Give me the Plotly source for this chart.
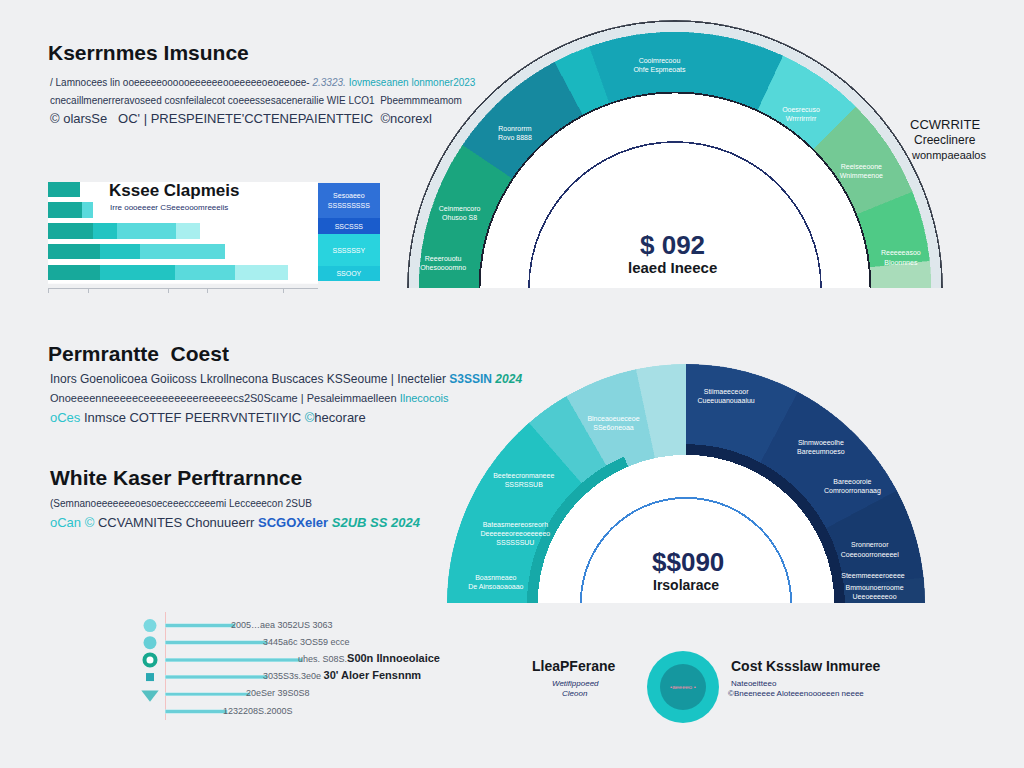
import plotly.graph_objects as go

W, H = 1024, 768

# ---------------- data ----------------
top_arc_names = ["Ceinmencoro", "Roonrorrm", "Cosse", "Cooimrecoou", "Ooesrecuso",
                 "Reeiseeoone", "Reeeeeasoo", "Bloonnnes"]
top_arc_values = [34, 28, 8.5, 44.5, 20, 23, 16, 6]

low_arc_names = ["Beeteecronmaneee", "Ceeeoosssoa", "Blnceaoeueceoe", "Aeseoees",
                 "Stiimaeeceoor", "Slnmwoeeolhe", "Sronnerroor", "Steemmeeeero"]
low_arc_values = [49, 11, 18, 12, 28, 34, 22, 6]

low_ring_names = ["Teal ring", "Open", "Navy ring"]
low_ring_values = [67, 23, 90]

bar_rows = ["Kssee", "Clapmeis", "Coeeeoo", "Sooeeoo", "Ceeeoos"]
bar_base = [32, 34, 45, 52, 52]
bar_core = [0, 0, 24, 40, 75]
bar_light = [0, 11, 59, 85, 60]
bar_pale = [0, 0, 24, 0, 53]

block_names = ["SSOOY", "SSSSSSY", "SSCSSS", "Sesoaeeo<br>SSSSSSSSS"]
block_values = [15, 32, 16, 35]

lolli_rows = ["r1", "r2", "r3", "r4", "r5", "r6"]
lolli_values = [70, 102, 137, 102, 85, 62]
lolli_labels = ["2005\u2026aea 3052US 3063",
                "3445a6c 3OS59 ecce",
                "uhes. S08S.<b><span style='font-size:11px;color:#1b1f2a'>S00n Ilnnoeolaice</span></b>",
                "3035S3s.3e0e <b><span style='font-size:11px;color:#1b1f2a'>30' Aloer Fensnnm</span></b>",
                "20eSer 39S0S8",
                "1232208S.2000S"]

# ---------------- helpers ----------------
def fx(px):
    return px / W


def fy(py):
    return 1 - py / H


def arc_centers(values, start=180.0):
    out, a = [], start
    for v in values:
        out.append(a - v / 2.0)
        a -= v
    return out


FONT = "Liberation Sans"
fig = go.Figure()

# ---------------- top semicircle ----------------
top_colors = ["#1aa57e", "#16899f", "#1ab7bf", "#15a5b6", "#55d8d9",
              "#74c995", "#4fca86", "#a9dcba"]
fig.add_trace(go.Barpolar(r=[0.045], theta=[90], width=[180], base=[0.955],
                          marker=dict(color="#dfe7ec", line=dict(width=0)),
                          subplot="polar", hoverinfo="skip"))
fig.add_trace(go.Barpolar(r=[0.006], theta=[90], width=[180], base=[0.994],
                          marker=dict(color="#3a404c", line=dict(width=0)),
                          subplot="polar", hoverinfo="skip"))
fig.add_trace(go.Barpolar(r=[0.225] * len(top_arc_values), theta=arc_centers(top_arc_values),
                          width=top_arc_values, base=[0.73] * len(top_arc_values),
                          text=top_arc_names,
                          marker=dict(color=top_colors, line=dict(color=top_colors, width=0.6)),
                          subplot="polar"))
fig.add_trace(go.Barpolar(r=[0.73], theta=[90], width=[180], base=[0],
                          marker=dict(color="#ffffff", line=dict(width=0)),
                          subplot="polar", hoverinfo="skip"))
fig.add_trace(go.Barpolar(r=[0.007], theta=[90], width=[180], base=[0.726],
                          marker=dict(color="#1b2030", line=dict(width=0)),
                          subplot="polar", hoverinfo="skip"))
fig.add_trace(go.Barpolar(r=[0.006], theta=[90], width=[180], base=[0.542],
                          marker=dict(color="#22306a", line=dict(width=0)),
                          subplot="polar", hoverinfo="skip"))

top_lbl_text = ["Reeerouotu<br>Ohesoooomno", "Ceinmencoro<br>Ohusoo S8", "Roonrorrm<br>Rovo 8888",
                "Cooimrecoou<br>Ohfe Espmeoats", "Ooesrecuso<br>Wrrrrirrrirr",
                "Reeiseeoone<br>Wnimmeenoe", "Reeeeeasoo<br>Bloonnnes"]
top_lbl_theta = [174, 161, 136, 94, 54, 32, 7.5]
top_lbl_r = [0.87, 0.85, 0.83, 0.83, 0.80, 0.82, 0.85]
fig.add_trace(go.Scatterpolar(r=top_lbl_r, theta=top_lbl_theta, mode="text", text=top_lbl_text,
                              textfont=dict(size=7, color="#ffffff", family=FONT),
                              subplot="polar", hoverinfo="skip"))

# ---------------- lower semicircle ----------------
low_colors = ["#22c2c2", "#4ecbd0", "#86d5de", "#a7dfe5",
              "#1e4883", "#1a4079", "#173a6e", "#1b3f71"]
fig.add_trace(go.Barpolar(r=[0.38] * len(low_arc_values), theta=arc_centers(low_arc_values),
                          width=low_arc_values, base=[0.62] * len(low_arc_values),
                          text=low_arc_names,
                          marker=dict(color=low_colors, line=dict(color=low_colors, width=0.6)),
                          subplot="polar2"))
ring_colors = ["#16a9a8", "rgba(0,0,0,0)", "#0f2650"]
fig.add_trace(go.Barpolar(r=[0.045] * 3, theta=arc_centers(low_ring_values), width=low_ring_values,
                          base=[0.62] * 3, text=low_ring_names,
                          marker=dict(color=ring_colors, line=dict(width=0)),
                          subplot="polar2", hoverinfo="skip"))
fig.add_trace(go.Barpolar(r=[0.62], theta=[90], width=[180], base=[0],
                          marker=dict(color="#ffffff", line=dict(width=0)),
                          subplot="polar2", hoverinfo="skip"))
fig.add_trace(go.Barpolar(r=[0.008], theta=[90], width=[180], base=[0.436],
                          marker=dict(color="#3b86d8", line=dict(width=0)),
                          subplot="polar2", hoverinfo="skip"))

low_lbl_text = ["Boasnmeaeo<br>De Ainsoaoaoaao", "Bateasmeereosreorh<br>Deeeeeeoreeoeeeeeo<br>SSSSSSUU",
                "Beeteecronmaneee<br>SSSRSSUB", "Blnceaoeueceoe<br>SSe6oneoaa",
                "Stiimaeeceoor<br>Cueeuuanouaaiuu", "Slnmwoeeolhe<br>Bareeumnoeso",
                "Bareeooroie<br>Comroorronanaag", "Sronnerroor<br>Coeeooorroneeeel",
                "Steemmeeeeroeeee", "Bmmounoerroome<br>Ueeoeeeeeoo"]
low_lbl_theta = [174, 158, 143, 112, 79, 49, 35, 16, 8, 3]
low_lbl_r = [0.80, 0.77, 0.85, 0.81, 0.88, 0.86, 0.85, 0.80, 0.79, 0.79]
fig.add_trace(go.Scatterpolar(r=low_lbl_r, theta=low_lbl_theta, mode="text", text=low_lbl_text,
                              textfont=dict(size=7, color="#ffffff", family=FONT),
                              subplot="polar2", hoverinfo="skip"))

# ---------------- top-left horizontal bars ----------------
seg_cols = ["#17a99b", "#22c4c2", "#5adadc", "#a8efef"]
for vals, col in zip([bar_base, bar_core, bar_light, bar_pale], seg_cols):
    fig.add_trace(go.Bar(y=bar_rows, x=vals, orientation="h", marker=dict(color=col, line=dict(width=0)),
                         xaxis="x", yaxis="y", hoverinfo="skip"))

# ---------------- blue legend column ----------------
block_cols = ["#1ec5da", "#29d3de", "#1a5ccc", "#2f70d7"]
for name, val, col in zip(block_names, block_values, block_cols):
    fig.add_trace(go.Bar(x=[0], y=[val], width=[1], marker=dict(color=col, line=dict(width=0)),
                         text=[name], textposition="inside", insidetextanchor="middle", textangle=0,
                         textfont=dict(size=7, color="#ffffff", family=FONT),
                         xaxis="x2", yaxis="y2", hoverinfo="skip"))

# ---------------- bottom-left line bars ----------------
fig.add_trace(go.Bar(y=lolli_rows, x=lolli_values, orientation="h", width=0.2,
                     marker=dict(color="#6bcfd8", line=dict(color="#b4e9ee", width=0.6)),
                     xaxis="x3", yaxis="y3", hoverinfo="skip"))
fig.add_trace(go.Scatter(y=lolli_rows, x=[v - 4 for v in lolli_values], mode="text", text=lolli_labels,
                         textposition="middle right", cliponaxis=False,
                         textfont=dict(size=9, color="#59626e", family=FONT),
                         xaxis="x3", yaxis="y3", hoverinfo="skip"))
fig.add_trace(go.Scatter(y=lolli_rows[:5], x=[-15] * 5, mode="markers", cliponaxis=False,
                         marker=dict(symbol=["circle", "circle", "circle", "square", "triangle-down"],
                                     size=[13, 13, 11, 8, 15], opacity=1,
                                     color=["#7ad8e0", "#66cfd7", "#ffffff", "#2aa8b2", "#55c0c2"],
                                     line=dict(color=["#7ad8e0", "#66cfd7", "#17a88f", "#2aa8b2", "#55c0c2"],
                                               width=[0, 0, 4, 0, 0])),
                         xaxis="x3", yaxis="y3", hoverinfo="skip"))

# ---------------- bottom circle badge ----------------
fig.add_trace(go.Scatter(x=[0, 0], y=[0, 0], mode="markers", cliponaxis=False,
                         marker=dict(size=[72, 46], color=["#19c4c5", "#15979f"], opacity=1,
                                     line=dict(width=0)),
                         xaxis="x4", yaxis="y4", hoverinfo="skip"))
fig.add_trace(go.Scatter(x=[0], y=[0], mode="text", text=["\u2022aeeeeo \u2022"], cliponaxis=False,
                         textfont=dict(size=6, color="#f08aa6", family=FONT),
                         xaxis="x4", yaxis="y4", hoverinfo="skip"))

# ---------------- text ----------------
ann = []


def T(x, y, text, size=11, color="#1f2a3c", bold=False, anchor="left", italic=False):
    if bold:
        text = "<b>" + text + "</b>"
    if italic:
        text = "<i>" + text + "</i>"
    ann.append(dict(x=fx(x), y=fy(y), xref="paper", yref="paper", text=text, showarrow=False,
                    xanchor=anchor, yanchor="middle", font=dict(size=size, color=color, family=FONT)))


TEAL = "#19a9b8"


def sp(t, c):
    return "<span style='color:%s'>%s</span>" % (c, t)


T(46, 53, "Kserrnmes Imsunce", 21, "#111418", True)
T(48, 83, "/ Lamnocees lin ooeeeeeoooooeeeeeeooeeeeeoeoeeoee- " + sp("<i>2.3323.</i>", "#6b86a8")
  + " " + sp("Iovmeseanen lonmoner2023", TEAL), 10, "#2a3550")
T(48, 101, "cnecaillmenerreravoseed cosnfeilalecot coeeessesacenerailie WIE LCO1  Pbeemmmeamom", 10, "#2a3550")
T(48, 119, "\u00a9 olarsSe   OC' | PRESPEINETE'CCTENEPAIENTTEIC  \u00a9ncorexl", 13, "#2a3550")

T(107, 190, "Kssee Clapmeis", 17, "#111418", True)
T(108, 208, "Irre oooeeeer CSeeeooomreeeiis", 8, "#23306a")

T(945, 124, "CCWRRITE", 13, "#15181d", anchor="center")
T(945, 140, "Creeclinere", 12, "#15181d", anchor="center")
T(948, 155, "wonmpaeaalos", 11, "#15181d", anchor="center")

T(672, 245, "$ 092", 26, "#1d2e5e", True, "center")
T(672, 268, "leaed Ineece", 15, "#15181d", True, "center")
T(688, 562, "$$090", 26, "#1c2a5c", True, "center")
T(686, 585, "Irsolarace", 14, "#15181d", True, "center")

T(46, 353, "Permrantte  Coest", 21, "#111418", True)
T(48, 379, "Inors Goenolicoea Goiicoss Lkrollnecona Buscaces KSSeoume | Inectelier "
  + sp("<b>S3SSIN</b>", "#1c8fc4") + " " + sp("<b><i>2024</i></b>", "#18a68a"), 12, "#2a3550")
T(48, 398, "Onoeeeenneeeeeceeeeeeeeereeeeecs2S0Scame | Pesaleimmaelleen " + sp("Ilnecocois", TEAL), 11, "#2a3550")
T(48, 417, sp("oCes", "#2cc3cc") + " Inmsce COTTEF PEERRVNTETIIYIC " + sp("\u00a9", TEAL) + "hecorare", 13, "#2a3550")

T(48, 477, "White Kaser Perftrarnnce", 21, "#111418", True)
T(48, 503, "(Semnanoeeeeeeeoesoeceeeccceeemi Lecceeecon 2SUB", 10, "#2a3550")
T(48, 522, sp("oCan \u00a9", "#2cc3cc") + " CCVAMNITES Chonuueerr " + sp("<b>SCGOXeler</b>", "#2260c8")
  + " " + sp("<b><i>S2UB SS 2024</i></b>", "#19ae9c"), 13, "#2a3550")

T(573, 666, "LleaPFerane", 14, "#15181d", True, "center")
T(575, 683, "Wetifippoeed", 8, "#23306a", anchor="center", italic=True)
T(575, 693, "Cleoon", 8, "#23306a", anchor="center", italic=True)
T(729, 666, "Cost Kssslaw Inmuree", 14, "#15181d", True)
T(729, 683, "Nateoeitteeo", 8, "#23306a")
T(726, 693, "\u00a9Bneeneeee Aloteeenoooeeen neeee", 8, "#23306a")

# ---------------- layout ----------------
fig.update_layout(
    width=W, height=H, margin=dict(l=0, r=0, t=0, b=0),
    paper_bgcolor="#eff0f2", plot_bgcolor="rgba(0,0,0,0)",
    showlegend=False, barmode="stack", bargap=0.25,
    font=dict(family=FONT),
    polar=dict(domain=dict(x=[fx(407), fx(943)], y=[fy(288), fy(20)]), sector=[0, 180],
               bgcolor="rgba(0,0,0,0)", bargap=0,
               radialaxis=dict(visible=False, range=[0, 1]),
               angularaxis=dict(visible=False)),
    polar2=dict(domain=dict(x=[fx(447), fx(925)], y=[fy(603), fy(364)]), sector=[0, 180],
                bgcolor="rgba(0,0,0,0)", bargap=0,
                radialaxis=dict(visible=False, range=[0, 1]),
                angularaxis=dict(visible=False)),
    xaxis=dict(domain=[fx(48), fx(318)], range=[0, 270], anchor="y", showgrid=False, zeroline=False,
               showline=True, linecolor="#b9bec6", linewidth=1, ticks="outside", ticklen=4,
               tickcolor="#b9bec6", tickvals=[0, 40, 120, 159, 235], showticklabels=False),
    yaxis=dict(domain=[fy(288), fy(182)], range=[4.74, -0.335], anchor="x", visible=False),
    xaxis2=dict(domain=[fx(318), fx(380)], range=[-0.5, 0.5], anchor="y2", visible=False),
    yaxis2=dict(domain=[fy(281), fy(183)], range=[0, 98], anchor="x2", visible=False),
    xaxis3=dict(domain=[fx(140), fx(460)], range=[-25, 295], anchor="y3", showgrid=False,
                zeroline=True, zerolinecolor="#f3c2c2", zerolinewidth=1, showticklabels=False),
    yaxis3=dict(domain=[fy(720), fy(612)], anchor="x3", autorange="reversed", visible=False),
    xaxis4=dict(domain=[fx(661), fx(705)], range=[-1, 1], anchor="y4", visible=False),
    yaxis4=dict(domain=[fy(709), fy(665)], range=[-1, 1], anchor="x4", visible=False),
    annotations=ann,
    shapes=[dict(type="rect", xref="x domain", yref="y domain", x0=0, x1=1, y0=0.04, y1=1,
                 fillcolor="#ffffff", line=dict(width=0), layer="below")],
)

fig.write_html("out.html", config={"displayModeBar": False},
               post_script="document.body.style.margin='0';document.body.style.overflow='hidden';")
